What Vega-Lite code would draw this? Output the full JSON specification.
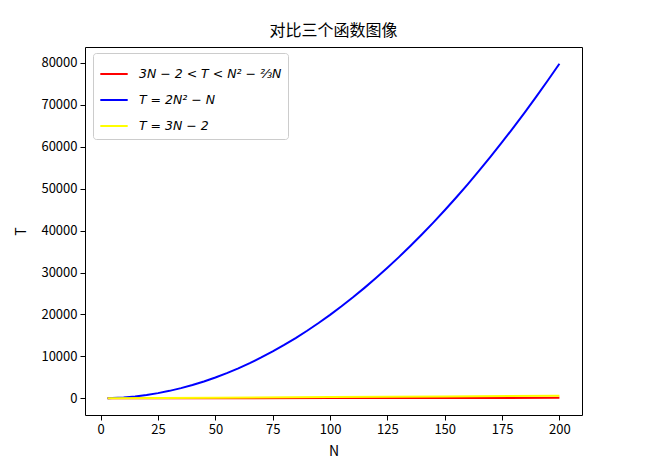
{
  "$schema": "https://vega.github.io/schema/vega-lite/v6.json",
  "autosize": "none",
  "width": 497,
  "height": 368,
  "padding": {"left": 85, "top": 47, "right": 89, "bottom": 55},
  "background": "white",
  "title": {"text": "对比三个函数图像", "font": "Noto Sans CJK SC", "fontSize": 16, "fontWeight": "normal", "color": "black", "offset": 8},
  "config": {
    "view": {"stroke": "black", "strokeWidth": 1},
    "axis": {"grid": false, "domain": false, "tickColor": "black", "tickSize": 5, "labelFont": "Noto Sans CJK SC", "labelFontSize": 13, "labelColor": "black", "titleFont": "Noto Sans CJK SC", "titleFontSize": 14, "titleFontWeight": "normal", "titleColor": "black", "labelPadding": 3}
  },
  "data": {"values": [
    {"N": 3, "T": 2, "s": "r"}, {"N": 50, "T": 25, "s": "r"}, {"N": 100, "T": 50, "s": "r"}, {"N": 150, "T": 75, "s": "r"}, {"N": 200, "T": 100, "s": "r"},
    {"N": 3, "T": 15, "s": "b"}, {"N": 5, "T": 45, "s": "b"}, {"N": 10, "T": 190, "s": "b"}, {"N": 15, "T": 435, "s": "b"}, {"N": 20, "T": 780, "s": "b"},
    {"N": 25, "T": 1225, "s": "b"}, {"N": 30, "T": 1770, "s": "b"}, {"N": 35, "T": 2415, "s": "b"}, {"N": 40, "T": 3160, "s": "b"}, {"N": 45, "T": 4005, "s": "b"},
    {"N": 50, "T": 4950, "s": "b"}, {"N": 55, "T": 5995, "s": "b"}, {"N": 60, "T": 7140, "s": "b"}, {"N": 65, "T": 8385, "s": "b"}, {"N": 70, "T": 9730, "s": "b"},
    {"N": 75, "T": 11175, "s": "b"}, {"N": 80, "T": 12720, "s": "b"}, {"N": 85, "T": 14365, "s": "b"}, {"N": 90, "T": 16110, "s": "b"}, {"N": 95, "T": 17955, "s": "b"},
    {"N": 100, "T": 19900, "s": "b"}, {"N": 105, "T": 21945, "s": "b"}, {"N": 110, "T": 24090, "s": "b"}, {"N": 115, "T": 26335, "s": "b"}, {"N": 120, "T": 28680, "s": "b"},
    {"N": 125, "T": 31125, "s": "b"}, {"N": 130, "T": 33670, "s": "b"}, {"N": 135, "T": 36315, "s": "b"}, {"N": 140, "T": 39060, "s": "b"}, {"N": 145, "T": 41905, "s": "b"},
    {"N": 150, "T": 44850, "s": "b"}, {"N": 155, "T": 47895, "s": "b"}, {"N": 160, "T": 51040, "s": "b"}, {"N": 165, "T": 54285, "s": "b"}, {"N": 170, "T": 57630, "s": "b"},
    {"N": 175, "T": 61075, "s": "b"}, {"N": 180, "T": 64620, "s": "b"}, {"N": 185, "T": 68265, "s": "b"}, {"N": 190, "T": 72010, "s": "b"}, {"N": 195, "T": 75855, "s": "b"},
    {"N": 200, "T": 79800, "s": "b"},
    {"N": 3, "T": 7, "s": "y"}, {"N": 50, "T": 148, "s": "y"}, {"N": 100, "T": 298, "s": "y"}, {"N": 150, "T": 448, "s": "y"}, {"N": 200, "T": 598, "s": "y"}
  ]},
  "transform": [
    {"lookup": "s", "from": {"data": {"values": [
      {"s": "r", "label": "3N − 2 < T < N² − ⅔N"},
      {"s": "b", "label": "T = 2N² − N"},
      {"s": "y", "label": "T = 3N − 2"}
    ]}, "key": "s", "fields": ["label"]}}
  ],
  "mark": {"type": "line", "strokeWidth": 2, "clip": true},
  "encoding": {
    "x": {"field": "N", "type": "quantitative", "title": "N", "scale": {"domain": [-6.85, 209.85], "nice": false, "zero": false},
      "axis": {"values": [0, 25, 50, 75, 100, 125, 150, 175, 200], "titlePadding": 8}},
    "y": {"field": "T", "type": "quantitative", "title": "T", "scale": {"domain": [-3990, 83790], "nice": false, "zero": false},
      "axis": {"values": [0, 10000, 20000, 30000, 40000, 50000, 60000, 70000, 80000], "format": "d", "titlePadding": 12}},
    "color": {"field": "label", "type": "nominal",
      "scale": {"domain": ["3N − 2 < T < N² − ⅔N", "T = 2N² − N", "T = 3N − 2"], "range": ["red", "blue", "yellow"]},
      "legend": {"title": null, "orient": "none", "legendX": 8, "legendY": 6, "symbolType": "stroke", "symbolSize": 750, "symbolStrokeWidth": 2,
        "labelFont": "DejaVu Sans", "labelFontStyle": "italic", "labelFontSize": 12.5, "labelColor": "black", "rowPadding": 4, "labelOffset": 10,
        "fillColor": "white", "strokeColor": "#cccccc", "cornerRadius": 3, "padding": 6}},
    "order": {"field": "s", "type": "nominal"}
  }
}
